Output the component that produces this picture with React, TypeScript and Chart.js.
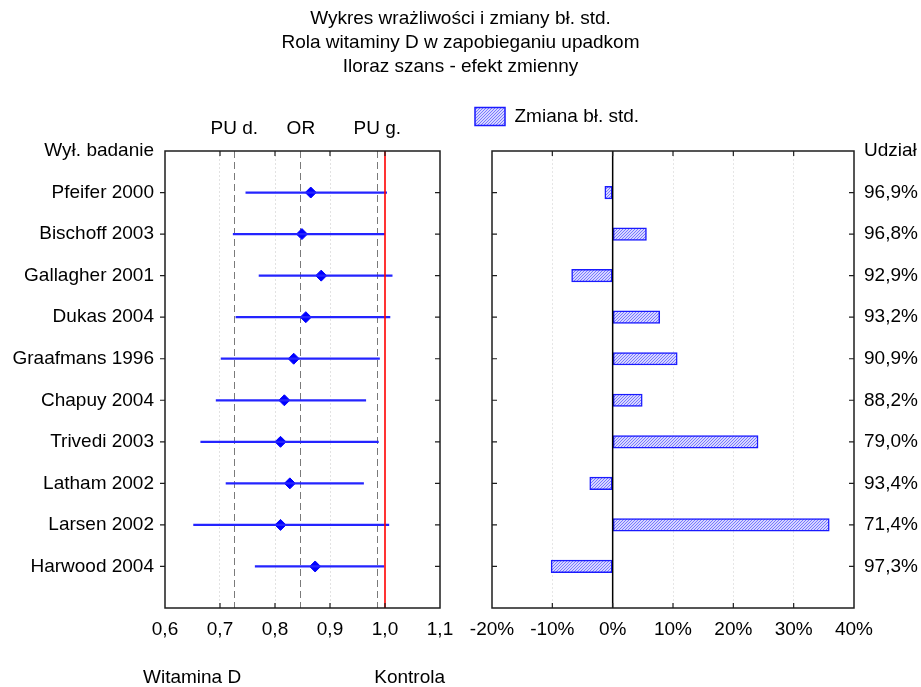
import React, { useEffect, useRef } from 'react';
import { Chart, registerables } from 'chart.js';

Chart.register(...registerables);

const FONT = '"Liberation Sans", Arial, sans-serif';
Chart.defaults.font.family = FONT;
Chart.defaults.font.size = 19;
Chart.defaults.color = '#000';

// ---- data ----
const titleLines = [
  'Wykres wrażliwości i zmiany bł. std.',
  'Rola witaminy D w zapobieganiu upadkom',
  'Iloraz szans - efekt zmienny',
];
const studies = [
  'Pfeifer 2000',
  'Bischoff 2003',
  'Gallagher 2001',
  'Dukas 2004',
  'Graafmans 1996',
  'Chapuy 2004',
  'Trivedi 2003',
  'Latham 2002',
  'Larsen 2002',
  'Harwood 2004',
];
const orValues = [0.865, 0.849, 0.884, 0.856, 0.834, 0.817, 0.81, 0.827, 0.81, 0.873];
const ciLow = [0.747, 0.724, 0.771, 0.729, 0.702, 0.693, 0.665, 0.711, 0.652, 0.764];
const ciHigh = [1.003, 0.999, 1.013, 1.009, 0.99, 0.965, 0.988, 0.961, 1.007, 0.998];
const summaryValues = [0.726, 0.847, 0.986];
const summaryLabels = ['PU d.', 'OR', 'PU g.'];
const refValue = 1.0;
const seChange = [-1.3, 5.6, -6.8, 7.8, 10.7, 4.9, 24.1, -3.8, 35.9, -10.2];
const shareLabels = ['96,9%', '96,8%', '92,9%', '93,2%', '90,9%', '88,2%', '79,0%', '93,4%', '71,4%', '97,3%'];
const leftHeader = 'Wył. badanie';
const rightHeader = 'Udział';
const legendLabel = 'Zmiana bł. std.';
const footLeft = 'Witamina D';
const footRight = 'Kontrola';
const orAxis = { min: 0.6, max: 1.1, step: 0.1 };
const changeAxis = { min: -20, max: 40, step: 10 };

function makeHatch(): CanvasPattern | string {
  const c = document.createElement('canvas');
  c.width = 3;
  c.height = 3;
  const g = c.getContext('2d');
  if (!g) return '#c0c0f4';
  g.fillStyle = '#d6d6ff';
  g.fillRect(0, 0, 3, 3);
  g.fillStyle = '#7878ff';
  for (let i = 0; i < 3; i++) g.fillRect(i, 2 - i, 1, 1);
  return g.createPattern(c, 'repeat') || '#c0c0f4';
}

type FrameCfg = {
  id: string;
  ref: { value: number; color: string; width: number };
  leftOut: boolean;
  rows: number;
  foot?: boolean;
};

function makeFramePlugin(cfg: FrameCfg) {
  return {
    id: cfg.id,
    afterDatasetsDraw(chart: any) {
      const { ctx, chartArea: a, scales } = chart;
      const x = scales.x;
      const y = scales.y;
      ctx.save();
      // reference line
      const rp = x.getPixelForValue(cfg.ref.value);
      ctx.strokeStyle = cfg.ref.color;
      ctx.lineWidth = cfg.ref.width;
      ctx.beginPath();
      ctx.moveTo(rp, a.top);
      ctx.lineTo(rp, a.bottom);
      ctx.stroke();
      // frame
      ctx.strokeStyle = '#1e1e1e';
      ctx.lineWidth = 1.5;
      ctx.strokeRect(a.left, a.top, a.right - a.left, a.bottom - a.top);
      // x ticks inward
      const tl = 5;
      ctx.lineWidth = 1.2;
      ctx.beginPath();
      x.ticks.forEach((t: any) => {
        if (t.value <= x.min + 1e-9 || t.value >= x.max - 1e-9) return;
        const px = x.getPixelForValue(t.value);
        ctx.moveTo(px, a.top);
        ctx.lineTo(px, a.top + tl);
        ctx.moveTo(px, a.bottom);
        ctx.lineTo(px, a.bottom - tl);
      });
      // row ticks
      for (let i = 1; i <= cfg.rows; i++) {
        const py = y.getPixelForValue(i);
        if (cfg.leftOut) {
          ctx.moveTo(a.left - tl, py);
          ctx.lineTo(a.left, py);
        } else {
          ctx.moveTo(a.left, py);
          ctx.lineTo(a.left + tl, py);
        }
        ctx.moveTo(a.right - tl, py);
        ctx.lineTo(a.right, py);
      }
      ctx.stroke();
      ctx.restore();
    },
    afterDraw(chart: any) {
      if (!cfg.foot) return;
      const { ctx } = chart;
      ctx.save();
      ctx.font = `19px ${FONT}`;
      ctx.fillStyle = '#000';
      ctx.textBaseline = 'alphabetic';
      ctx.textAlign = 'left';
      ctx.fillText(footLeft, 143, 683);
      ctx.textAlign = 'right';
      ctx.fillText(footRight, 445, 683);
      ctx.restore();
    },
  };
}

const near = (a: number, b: number) => Math.abs(a - b) < 1e-6;

export default function App() {
  const leftRef = useRef<HTMLCanvasElement>(null);
  const rightRef = useRef<HTMLCanvasElement>(null);

  useEffect(() => {
    if (!leftRef.current || !rightRef.current) return;
    const hatch = makeHatch();

    const left = new Chart(leftRef.current, {
      type: 'bar',
      data: {
        labels: [leftHeader, ...studies, ''],
        datasets: [
          {
            type: 'bar',
            label: 'PU',
            data: studies.map((s, i) => ({ y: s, x: [ciLow[i], ciHigh[i]] })) as any,
            backgroundColor: '#2424ff',
            borderWidth: 0,
            barThickness: 1.6,
            xAxisID: 'x',
            yAxisID: 'y',
          },
          {
            type: 'line',
            label: 'OR',
            data: studies.map((s, i) => ({ y: s, x: orValues[i] })) as any,
            showLine: false,
            pointStyle: 'rectRot',
            pointRadius: 5.5,
            pointBackgroundColor: '#0000ff',
            pointBorderColor: '#0000ff',
            pointBorderWidth: 1,
            xAxisID: 'x',
            yAxisID: 'y',
          } as any,
        ],
      },
      options: {
        indexAxis: 'y',
        responsive: false,
        animation: false,
        devicePixelRatio: 1,
        layout: { padding: 0 },
        plugins: {
          legend: { display: false },
          tooltip: { enabled: false },
          title: {
            display: true,
            text: titleLines,
            color: '#000',
            font: { size: 19, weight: 'normal', lineHeight: 24 / 19 },
            padding: { top: 7, bottom: 0 },
          },
        },
        scales: {
          x: {
            type: 'linear',
            position: 'bottom',
            min: orAxis.min,
            max: orAxis.max,
            ticks: {
              stepSize: orAxis.step,
              padding: 0,
              color: '#000',
              autoSkip: false,
              maxRotation: 0,
              callback: (v: any) => Number(v).toFixed(1).replace('.', ','),
            },
            grid: {
              drawTicks: true,
              tickLength: 10.5,
              tickColor: 'rgba(0,0,0,0)',
              lineWidth: 1,
              color: (c: any) => {
                const v = c.tick ? c.tick.value : NaN;
                if (near(v, orAxis.min) || near(v, orAxis.max) || near(v, refValue)) return 'rgba(0,0,0,0)';
                return '#e2e2e2';
              },
            },
            border: { display: false, dash: [2, 2] },
            afterFit: (s: any) => {
              s.height = 79;
            },
          },
          x2: {
            type: 'linear',
            position: 'top',
            min: orAxis.min,
            max: orAxis.max,
            afterBuildTicks: (s: any) => {
              s.ticks = summaryValues.map((v) => ({ value: v }));
            },
            ticks: {
              padding: 10.5,
              color: '#000',
              autoSkip: false,
              maxRotation: 0,
              callback: (_v: any, i: number) => summaryLabels[i],
            },
            grid: { drawTicks: false, color: '#7a7a7a', lineWidth: 1 },
            border: { display: false, dash: [7, 4] },
            afterFit: (s: any) => {
              const th = s.chart.titleBlock ? s.chart.titleBlock.height : 79;
              s.height = 151 - th;
            },
          },
          y: {
            type: 'category',
            position: 'left',
            offset: false,
            ticks: { padding: 11, color: '#000', autoSkip: false },
            grid: { display: false, drawTicks: false },
            border: { display: false },
            afterFit: (s: any) => {
              s.width = 165;
            },
          },
          y2: {
            type: 'linear',
            position: 'right',
            display: true,
            ticks: { display: false },
            grid: { display: false, drawTicks: false },
            border: { display: false },
            afterFit: (s: any) => {
              s.width = 481;
            },
          },
        },
      } as any,
      plugins: [
        makeFramePlugin({
          id: 'leftFrame',
          ref: { value: refValue, color: '#ff0000', width: 1.6 },
          leftOut: true,
          rows: studies.length,
          foot: true,
        }) as any,
      ],
    });

    const right = new Chart(rightRef.current, {
      type: 'bar',
      data: {
        datasets: [
          {
            label: legendLabel,
            data: studies.map((s, i) => ({ y: s, x: seChange[i] })) as any,
            backgroundColor: hatch as any,
            borderColor: '#1a1aff',
            borderWidth: 1.5,
            borderSkipped: false,
            barThickness: 12.5,
            xAxisID: 'x',
            yAxisID: 'y',
          },
        ],
      },
      options: {
        indexAxis: 'y',
        responsive: false,
        animation: false,
        devicePixelRatio: 1,
        layout: { padding: { top: 97, left: 0, right: 0, bottom: 0 } },
        plugins: {
          tooltip: { enabled: false },
          title: { display: false },
          legend: {
            display: true,
            position: 'top',
            align: 'start',
            labels: {
              boxWidth: 30,
              boxHeight: 18,
              padding: 10,
              color: '#000',
              font: { size: 19 },
            },
          },
        },
        scales: {
          x: {
            type: 'linear',
            position: 'bottom',
            min: changeAxis.min,
            max: changeAxis.max,
            ticks: {
              stepSize: changeAxis.step,
              padding: 0,
              color: '#000',
              autoSkip: false,
              maxRotation: 0,
              callback: (v: any) => `${Math.round(Number(v))}%`,
            },
            grid: {
              drawTicks: true,
              tickLength: 10.5,
              tickColor: 'rgba(0,0,0,0)',
              lineWidth: 1,
              color: (c: any) => {
                const v = c.tick ? c.tick.value : NaN;
                if (near(v, changeAxis.min) || near(v, changeAxis.max) || near(v, 0)) return 'rgba(0,0,0,0)';
                return '#e6e6e6';
              },
            },
            border: { display: false, dash: [2, 2] },
            afterFit: (s: any) => {
              s.height = 79;
            },
          },
          x2: {
            type: 'linear',
            position: 'top',
            display: true,
            ticks: { display: false },
            grid: { display: false, drawTicks: false },
            border: { display: false },
            afterFit: (s: any) => {
              const lh = s.chart.legend ? s.chart.legend.height : 39;
              s.height = 151 - 97 - lh;
            },
          },
          y: {
            type: 'category',
            position: 'left',
            labels: ['', ...studies, ''],
            offset: false,
            ticks: { display: false },
            grid: { display: false, drawTicks: false },
            border: { display: false },
            afterFit: (s: any) => {
              s.width = 27;
            },
          },
          y2: {
            type: 'category',
            position: 'right',
            labels: [rightHeader, ...shareLabels, ''],
            offset: false,
            ticks: { padding: 10, color: '#000', autoSkip: false },
            grid: { display: false, drawTicks: false },
            border: { display: false },
            afterFit: (s: any) => {
              s.width = 67;
            },
          },
        },
      } as any,
      plugins: [
        makeFramePlugin({
          id: 'rightFrame',
          ref: { value: 0, color: '#000000', width: 1.5 },
          leftOut: false,
          rows: studies.length,
        }) as any,
      ],
    });

    return () => {
      left.destroy();
      right.destroy();
    };
  }, []);

  return (
    <div
      style={{
        position: 'absolute',
        left: 0,
        top: 0,
        width: 921,
        height: 687,
        background: '#fff',
        overflow: 'hidden',
      }}
    >
      <canvas ref={leftRef} width={921} height={687} style={{ position: 'absolute', left: 0, top: 0 }} />
      <canvas ref={rightRef} width={456} height={687} style={{ position: 'absolute', left: 465, top: 0 }} />
    </div>
  );
}
